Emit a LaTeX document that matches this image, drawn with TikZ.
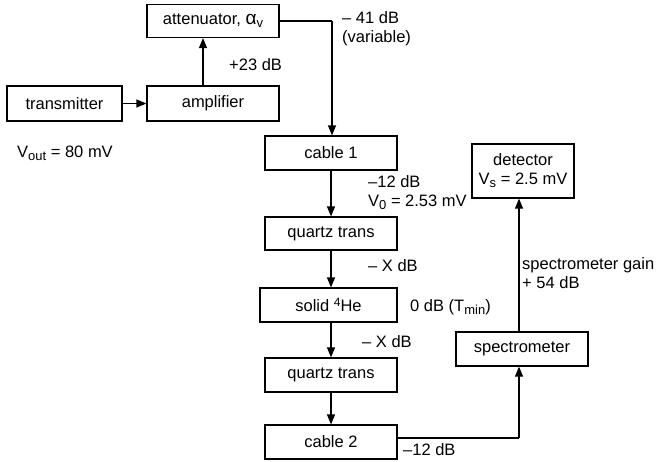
\documentclass[tikz,border=0pt]{standalone}
\usepackage{fontspec}
\setmainfont{Liberation Sans}
\usetikzlibrary{arrows.meta}
\newcommand{\mysub}[1]{\raisebox{-3pt}{\fontsize{13}{13}\selectfont #1}}
\newcommand{\mysup}[1]{\raisebox{5pt}{\fontsize{12}{12}\selectfont #1}}
\begin{document}
\begin{tikzpicture}[x=1pt,y=-1pt,
  box/.style={draw,line width=1.2pt,minimum width=132pt,minimum height=33pt,inner sep=0pt,font=\fontsize{16.5}{19}\selectfont},
  lbl/.style={font=\fontsize{16.5}{19}\selectfont,inner sep=0pt,anchor=west,align=left},
  conn/.style={line width=1.2pt,-{Triangle[length=10pt,width=8pt]}},
  plain/.style={line width=1.2pt}]
\useasboundingbox (0,0) rectangle (661,461);
\node[box] (att) at (213,21) {attenuator, {\fontsize{19}{19}\selectfont α}\mysub{v}};
\node[box,minimum width=115pt,minimum height=35pt] (trans) at (64.5,103.5) {transmitter};
\node[box,minimum height=35pt] (amp) at (213,103.5) {amplifier};
\node[box,minimum height=34pt] (c1) at (331,153) {cable 1};
\node[box] (qt1) at (331,233.5) {quartz trans};
\node[box,minimum width=137pt,minimum height=34pt] (he) at (328.5,305) {solid \mysup{4}He};
\node[box,minimum height=34pt] (qt2) at (331,375) {quartz trans};
\node[box,minimum height=34pt] (c2) at (331,442) {cable 2};
\node[box,minimum height=34pt] (spec) at (522,349) {spectrometer};
\node[box,minimum width=102pt,minimum height=54pt,align=center] (det) at (523,171) {detector\\V\mysub{s} = 2.5 mV};
\coordinate (k1) at (332,21);
\coordinate (k2) at (519,438);
\draw[conn] (trans.east) -- (amp.west);
\draw[conn] (amp.north -| 203,0) -- (att.south -| 203,0);
\draw[plain] (att.east) -- (k1);
\draw[conn] (k1) -- (c1.north -| k1);
\draw[conn] (c1) -- (qt1);
\draw[conn] (qt1) -- (he.north -| qt1);
\draw[conn] (he.south -| qt1) -- (qt2);
\draw[conn] (qt2) -- (c2);
\draw[plain] (c2.east |- k2) -- (k2);
\draw[conn] (k2) -- (spec.south -| k2);
\draw[conn] (spec.north -| k2) -- (det.south -| k2);
\node[lbl] (l1) at (342,29) {– 41 dB\\(variable)};
\node[lbl] (l2) at (229,65) {+23 dB};
\node[lbl] (l3) at (17,153) {V\mysub{out} = 80 mV};
\node[lbl] (l4) at (368,193) {–12 dB\\V\mysub{0} = 2.53 mV};
\node[lbl] (l5) at (368,266) {– X dB};
\node[lbl] (l6) at (410,307) {0 dB (T\mysub{min})};
\node[lbl] (l7) at (362,342) {– X dB};
\node[lbl] (l8) at (403,450) {–12 dB};
\node[lbl] (l9) at (522,273) {spectrometer gain\\+ 54 dB};
\end{tikzpicture}
\end{document}
